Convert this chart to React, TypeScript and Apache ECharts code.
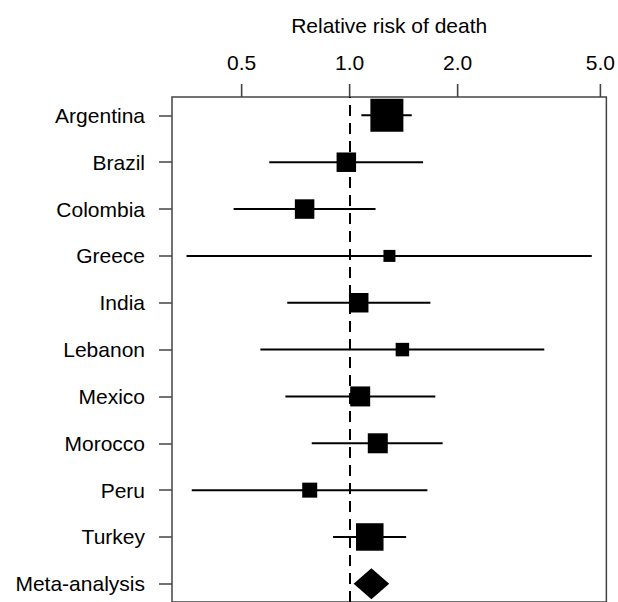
import React, { useEffect, useRef } from "react";
import * as echarts from "echarts";

// Rows, top to bottom
const countries = [
  "Argentina", "Brazil", "Colombia", "Greece", "India",
  "Lebanon", "Mexico", "Morocco", "Peru", "Turkey",
];
// Relative risk estimates and 95% CI
const estimate = [1.27, 0.979, 0.749, 1.291, 1.06, 1.403, 1.07, 1.198, 0.774, 1.138];
const lower = [1.078, 0.597, 0.475, 0.351, 0.67, 0.564, 0.662, 0.784, 0.363, 0.899];
const upper = [1.49, 1.602, 1.181, 4.73, 1.679, 3.488, 1.733, 1.817, 1.647, 1.437];
// Study weights (box size)
const weights = [33, 19.5, 19.5, 12, 19.5, 13.5, 20, 20, 15, 27.5];
// Pooled estimate
const metaLabel = "Meta-analysis";
const metaEstimate = 1.15;
const metaLower = 1.026;
const metaUpper = 1.289;
// X axis tick labels
const xTicks = [0.5, 1.0, 2.0, 5.0];
const xMinRR = 0.3198;
const xMaxRR = 5.195;

const rows = [...countries, metaLabel];
const yOf = (i: number) => rows.length - i;
const Y_MIN = 0.612;
const Y_MAX = 11.392;

export default function App() {
  const ref = useRef<HTMLDivElement>(null);
  useEffect(() => {
    if (!ref.current) return;
    const chart = echarts.init(ref.current, null, { renderer: "svg" });
    const font = "'Liberation Sans', Arial, Helvetica, sans-serif";
    const axisColor = "#444";

    const ciData = countries.map((_, i) => [
      Math.log10(lower[i]),
      Math.log10(upper[i]),
      yOf(i),
    ]);
    const boxData = countries.map((_, i) => [
      Math.log10(estimate[i]),
      yOf(i),
      weights[i],
    ]);
    const metaY = yOf(rows.length - 1);

    chart.setOption({
      animation: false,
      grid: {
        left: 172,
        right: 10,
        top: 97,
        bottom: -4,
        show: true,
        borderColor: axisColor,
        borderWidth: 1.5,
        backgroundColor: "transparent",
      },
      xAxis: {
        type: "value",
        position: "top",
        min: Math.log10(xMinRR),
        max: Math.log10(xMaxRR),
        name: "Relative risk of death",
        nameLocation: "middle",
        nameGap: 61,
        nameTextStyle: { fontSize: 21, color: "#000", fontFamily: font },
        axisLine: { show: false, onZero: false },
        splitLine: { show: false },
        axisTick: { show: false },
        axisLabel: {
          show: true,
          margin: 24,
          fontSize: 21,
          color: "#000",
          fontFamily: font,
          customValues: xTicks.map((v) => Math.log10(v)),
          formatter: (v: number) => Math.pow(10, v).toFixed(1),
        },
      },
      yAxis: {
        type: "value",
        position: "left",
        min: Y_MIN,
        max: Y_MAX,
        axisLine: { show: false, onZero: false },
        splitLine: { show: false },
        axisTick: {
          show: true,
          inside: false,
          length: 13,
          lineStyle: { color: axisColor, width: 1.5 },
          customValues: rows.map((_, i) => yOf(i)),
        },
        axisLabel: {
          show: true,
          margin: 27,
          fontSize: 21,
          color: "#000",
          fontFamily: font,
          customValues: rows.map((_, i) => yOf(i)),
          formatter: (v: number) => {
            const idx = rows.length - Math.round(v);
            return rows[idx] ?? "";
          },
        },
      },
      series: [
        {
          type: "custom",
          data: ciData,
          renderItem: (params: any, api: any) => {
            const p1 = api.coord([api.value(0), api.value(2)]);
            const p2 = api.coord([api.value(1), api.value(2)]);
            return {
              type: "line",
              shape: { x1: p1[0], y1: p1[1], x2: p2[0], y2: p2[1] },
              style: { stroke: "#000", lineWidth: 2 },
            };
          },
          markLine: {
            silent: true,
            symbol: "none",
            label: { show: false },
            lineStyle: { color: "#000", width: 2, type: [11, 7], opacity: 1 },
            data: [{ xAxis: 0 }],
          },
          z: 2,
        },
        {
          type: "scatter",
          data: boxData,
          symbol: "rect",
          symbolSize: (val: number[]) => val[2],
          itemStyle: { color: "#000", opacity: 1 },
          z: 3,
        },
        {
          type: "custom",
          data: [[Math.log10(metaLower), Math.log10(metaEstimate), Math.log10(metaUpper), metaY]],
          renderItem: (params: any, api: any) => {
            const y = api.value(3);
            const l = api.coord([api.value(0), y]);
            const t = api.coord([api.value(1), y + 0.33]);
            const r = api.coord([api.value(2), y]);
            const b = api.coord([api.value(1), y - 0.33]);
            return {
              type: "polygon",
              shape: { points: [l, t, r, b] },
              style: { fill: "#000" },
            };
          },
          z: 3,
        },
      ],
    });

    // Top-axis tick marks as thin filled rects, placed through the chart's x/y scales
    const tickRects = xTicks.map((v) => {
      const p = chart.convertToPixel({ gridIndex: 0 }, [Math.log10(v), Y_MAX]) as number[];
      return {
        type: "rect",
        z: 100,
        silent: true,
        shape: { x: p[0] - 0.8, y: p[1] - 13, width: 1.6, height: 13 },
        style: { fill: "#444" },
      };
    });
    chart.setOption({ graphic: { elements: tickRects } });

    return () => chart.dispose();
  }, []);

  return (
    <div
      ref={ref}
      style={{ position: "absolute", left: 0, top: 0, width: 618, height: 602, background: "#fff" }}
    />
  );
}
